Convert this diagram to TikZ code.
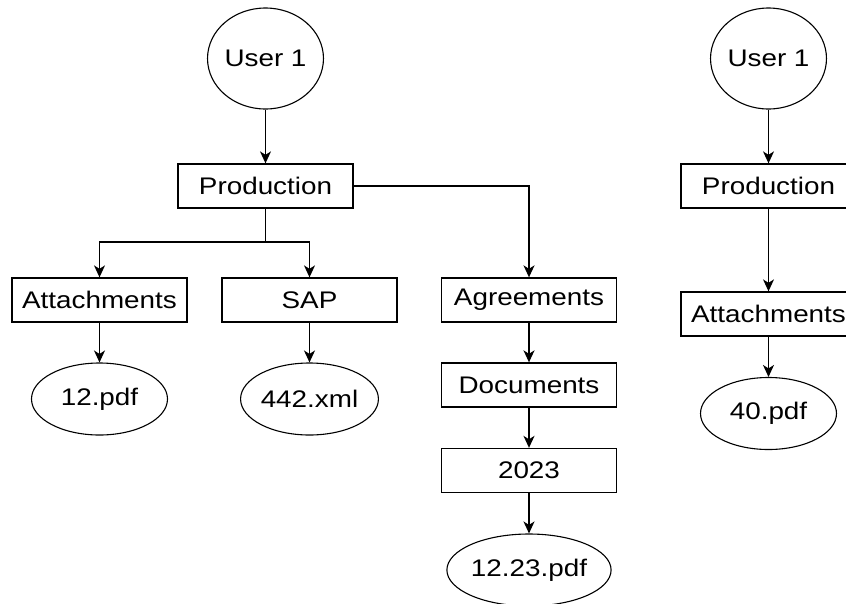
\documentclass[tikz,border=0pt]{standalone}
\usepackage{fontspec}
\setmainfont{Liberation Sans}
\usetikzlibrary{arrows.meta,shapes.geometric}
% labels are set slightly wide
\newcommand{\wide}[1]{\scalebox{1.16}[1]{#1}}

\begin{document}
\begin{tikzpicture}[x=1pt,y=-1pt,
  every node/.style={font=\fontsize{24}{28}\selectfont, inner sep=0pt},
  folder/.style={draw, line width=1.3pt, rectangle, minimum width=175pt, minimum height=44pt},
  user/.style={draw, line width=1.1pt, ellipse, minimum width=113pt, minimum height=101pt},
  file/.style={draw, line width=1.1pt, ellipse, minimum width=136pt, minimum height=72pt},
  link/.style={line width=1.3pt, -{Stealth[length=12pt,width=11pt,inset=3.5pt]}},
  boldlink/.style={line width=1.8pt, -{Stealth[length=12pt,width=11pt,inset=3.5pt]}},
  wire/.style={line width=1.3pt}]
\useasboundingbox (0,0) rectangle (846,603);
\clip (0,0) rectangle (846,603);

% left tree
\node[user]   (u1)    at (265.5,58.5) {\wide{User 1}};
\node[folder] (prod)  at (265.5,186)  {\wide{Production}};
\coordinate   (split) at (265.5,242);
\node[folder] (att)   at (99.5,300)   {\wide{Attachments}};
\node[folder] (sap)   at (309.5,300)  {\wide{SAP}};
\node[folder] (agr)   at (529,300)    {\wide{Agreements}};
\node[folder] (doc)   at (529,385)    {\wide{Documents}};
\node[folder] (year)  at (529,470.5)  {\wide{2023}};
\node[file]   (f12)   at (99.5,399)   {\wide{12.pdf}};
\node[file]   (f442)  at (309.5,399)  {\wide{442.xml}};
\node[file]   (f1223) at (529,570)    {\wide{12.23.pdf}};

\draw[link] (u1) -- (prod);
\draw[wire] (prod) -- (split);
\draw[link] (split) -| (att);
\draw[link] (split) -| (sap);
\draw[boldlink] (prod) -| (agr);
\draw[link] (att) -- (f12);
\draw[boldlink] (sap) -- (f442);
\draw[boldlink] (agr) -- (doc);
\draw[boldlink] (doc) -- (year);
\draw[boldlink] (year) -- (f1223);

% right tree
\node[user]   (u2)    at (768.5,58.5) {\wide{User 1}};
\node[folder] (prod2) at (768.5,186)  {\wide{Production}};
\node[folder] (att2)  at (768.5,314)  {\wide{Attachments}};
\node[file]   (f40)   at (768.5,413.5){\wide{40.pdf}};

\draw[link] (u2) -- (prod2);
\draw[link] (prod2) -- (att2);
\draw[link] (att2) -- (f40);
\end{tikzpicture}
\end{document}
